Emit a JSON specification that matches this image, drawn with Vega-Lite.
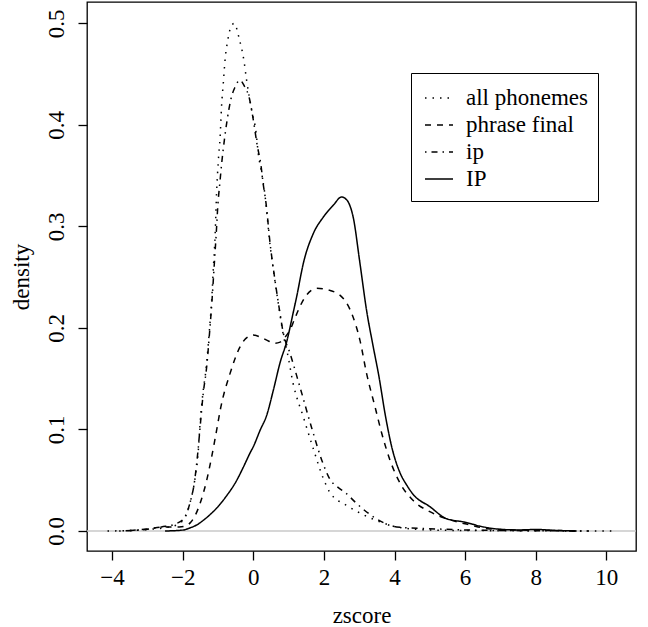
{
  "$schema": "https://vega.github.io/schema/vega-lite/v6.json",
  "width": 549,
  "height": 549,
  "autosize": "none",
  "padding": {"left": 87, "top": 2, "right": 12, "bottom": 76},
  "background": "white",
  "config": {
    "view": {"stroke": "black", "strokeWidth": 1.3},
    "font": "Liberation Serif",
    "axis": {
      "grid": false,
      "domain": false,
      "tickColor": "black",
      "tickWidth": 1.3,
      "tickSize": 9,
      "labelFont": "Liberation Serif",
      "labelFontSize": 23,
      "labelColor": "black",
      "titleFont": "Liberation Serif",
      "titleFontSize": 23,
      "titleFontWeight": "normal",
      "titleColor": "black"
    }
  },
  "datasets": {
    "curves": [
      {"series": "all phonemes", "zscore": -4.13, "density": 0},
      {"series": "all phonemes", "zscore": -3.5, "density": 0.0005},
      {"series": "all phonemes", "zscore": -3.0, "density": 0.0015},
      {"series": "all phonemes", "zscore": -2.55, "density": 0.003},
      {"series": "all phonemes", "zscore": -2.17, "density": 0.006},
      {"series": "all phonemes", "zscore": -1.93, "density": 0.014},
      {"series": "all phonemes", "zscore": -1.79, "density": 0.028},
      {"series": "all phonemes", "zscore": -1.65, "density": 0.052},
      {"series": "all phonemes", "zscore": -1.56, "density": 0.078},
      {"series": "all phonemes", "zscore": -1.51, "density": 0.105},
      {"series": "all phonemes", "zscore": -1.43, "density": 0.135},
      {"series": "all phonemes", "zscore": -1.33, "density": 0.162},
      {"series": "all phonemes", "zscore": -1.25, "density": 0.195},
      {"series": "all phonemes", "zscore": -1.18, "density": 0.227},
      {"series": "all phonemes", "zscore": -1.13, "density": 0.26},
      {"series": "all phonemes", "zscore": -1.08, "density": 0.293},
      {"series": "all phonemes", "zscore": -1.04, "density": 0.333},
      {"series": "all phonemes", "zscore": -0.99, "density": 0.365},
      {"series": "all phonemes", "zscore": -0.94, "density": 0.388},
      {"series": "all phonemes", "zscore": -0.9, "density": 0.418},
      {"series": "all phonemes", "zscore": -0.85, "density": 0.441},
      {"series": "all phonemes", "zscore": -0.8, "density": 0.464},
      {"series": "all phonemes", "zscore": -0.72, "density": 0.484},
      {"series": "all phonemes", "zscore": -0.64, "density": 0.496},
      {"series": "all phonemes", "zscore": -0.54, "density": 0.5},
      {"series": "all phonemes", "zscore": -0.4, "density": 0.485},
      {"series": "all phonemes", "zscore": -0.26, "density": 0.462},
      {"series": "all phonemes", "zscore": -0.19, "density": 0.444},
      {"series": "all phonemes", "zscore": -0.05, "density": 0.415},
      {"series": "all phonemes", "zscore": 0.08, "density": 0.392},
      {"series": "all phonemes", "zscore": 0.14, "density": 0.372},
      {"series": "all phonemes", "zscore": 0.24, "density": 0.352},
      {"series": "all phonemes", "zscore": 0.33, "density": 0.331},
      {"series": "all phonemes", "zscore": 0.47, "density": 0.283},
      {"series": "all phonemes", "zscore": 0.61, "density": 0.247},
      {"series": "all phonemes", "zscore": 0.74, "density": 0.217},
      {"series": "all phonemes", "zscore": 0.85, "density": 0.193},
      {"series": "all phonemes", "zscore": 0.95, "density": 0.178},
      {"series": "all phonemes", "zscore": 1.13, "density": 0.145},
      {"series": "all phonemes", "zscore": 1.42, "density": 0.112},
      {"series": "all phonemes", "zscore": 1.7, "density": 0.081},
      {"series": "all phonemes", "zscore": 1.98, "density": 0.052},
      {"series": "all phonemes", "zscore": 2.17, "density": 0.038},
      {"series": "all phonemes", "zscore": 2.65, "density": 0.025},
      {"series": "all phonemes", "zscore": 3.12, "density": 0.016},
      {"series": "all phonemes", "zscore": 3.59, "density": 0.009},
      {"series": "all phonemes", "zscore": 4.06, "density": 0.004},
      {"series": "all phonemes", "zscore": 5.0, "density": 0.001},
      {"series": "all phonemes", "zscore": 6.0, "density": 0.0005},
      {"series": "all phonemes", "zscore": 8.0, "density": 0.0002},
      {"series": "all phonemes", "zscore": 10.27, "density": 0},

      {"series": "ip", "zscore": -3.8, "density": 0},
      {"series": "ip", "zscore": -3.2, "density": 0.001},
      {"series": "ip", "zscore": -2.6, "density": 0.004},
      {"series": "ip", "zscore": -2.2, "density": 0.007},
      {"series": "ip", "zscore": -1.95, "density": 0.013},
      {"series": "ip", "zscore": -1.8, "density": 0.027},
      {"series": "ip", "zscore": -1.66, "density": 0.05},
      {"series": "ip", "zscore": -1.57, "density": 0.078},
      {"series": "ip", "zscore": -1.5, "density": 0.105},
      {"series": "ip", "zscore": -1.42, "density": 0.135},
      {"series": "ip", "zscore": -1.32, "density": 0.162},
      {"series": "ip", "zscore": -1.24, "density": 0.195},
      {"series": "ip", "zscore": -1.17, "density": 0.227},
      {"series": "ip", "zscore": -1.11, "density": 0.26},
      {"series": "ip", "zscore": -1.05, "density": 0.293},
      {"series": "ip", "zscore": -1.0, "density": 0.323},
      {"series": "ip", "zscore": -0.95, "density": 0.342},
      {"series": "ip", "zscore": -0.89, "density": 0.364},
      {"series": "ip", "zscore": -0.82, "density": 0.385},
      {"series": "ip", "zscore": -0.74, "density": 0.405},
      {"series": "ip", "zscore": -0.63, "density": 0.426},
      {"series": "ip", "zscore": -0.52, "density": 0.437},
      {"series": "ip", "zscore": -0.38, "density": 0.444},
      {"series": "ip", "zscore": -0.25, "density": 0.438},
      {"series": "ip", "zscore": -0.11, "density": 0.426},
      {"series": "ip", "zscore": 0.0, "density": 0.405},
      {"series": "ip", "zscore": 0.11, "density": 0.38},
      {"series": "ip", "zscore": 0.21, "density": 0.362},
      {"series": "ip", "zscore": 0.28, "density": 0.342},
      {"series": "ip", "zscore": 0.36, "density": 0.323},
      {"series": "ip", "zscore": 0.47, "density": 0.285},
      {"series": "ip", "zscore": 0.61, "density": 0.248},
      {"series": "ip", "zscore": 0.74, "density": 0.218},
      {"series": "ip", "zscore": 0.85, "density": 0.195},
      {"series": "ip", "zscore": 1.04, "density": 0.175},
      {"series": "ip", "zscore": 1.32, "density": 0.142},
      {"series": "ip", "zscore": 1.65, "density": 0.102},
      {"series": "ip", "zscore": 1.98, "density": 0.066},
      {"series": "ip", "zscore": 2.17, "density": 0.051},
      {"series": "ip", "zscore": 2.4, "density": 0.043},
      {"series": "ip", "zscore": 2.6, "density": 0.038},
      {"series": "ip", "zscore": 2.93, "density": 0.027},
      {"series": "ip", "zscore": 3.4, "density": 0.014},
      {"series": "ip", "zscore": 4.06, "density": 0.004},
      {"series": "ip", "zscore": 5.2, "density": 0.002},
      {"series": "ip", "zscore": 6.0, "density": 0.001},
      {"series": "ip", "zscore": 7.0, "density": 0.0005},
      {"series": "ip", "zscore": 8.5, "density": 0.0002},
      {"series": "ip", "zscore": 9.5, "density": 0},

      {"series": "phrase final", "zscore": -3.5, "density": 0.0005},
      {"series": "phrase final", "zscore": -3.0, "density": 0.002},
      {"series": "phrase final", "zscore": -2.5, "density": 0.004},
      {"series": "phrase final", "zscore": -2.1, "density": 0.004},
      {"series": "phrase final", "zscore": -1.9, "density": 0.005},
      {"series": "phrase final", "zscore": -1.79, "density": 0.008},
      {"series": "phrase final", "zscore": -1.65, "density": 0.015},
      {"series": "phrase final", "zscore": -1.51, "density": 0.027},
      {"series": "phrase final", "zscore": -1.32, "density": 0.05},
      {"series": "phrase final", "zscore": -1.18, "density": 0.073},
      {"series": "phrase final", "zscore": -1.04, "density": 0.099},
      {"series": "phrase final", "zscore": -0.92, "density": 0.122},
      {"series": "phrase final", "zscore": -0.66, "density": 0.155},
      {"series": "phrase final", "zscore": -0.38, "density": 0.181},
      {"series": "phrase final", "zscore": -0.2, "density": 0.19},
      {"series": "phrase final", "zscore": 0.0, "density": 0.193},
      {"series": "phrase final", "zscore": 0.2, "density": 0.191},
      {"series": "phrase final", "zscore": 0.38, "density": 0.188},
      {"series": "phrase final", "zscore": 0.6, "density": 0.185},
      {"series": "phrase final", "zscore": 0.76, "density": 0.186},
      {"series": "phrase final", "zscore": 0.9, "density": 0.191},
      {"series": "phrase final", "zscore": 1.04, "density": 0.198},
      {"series": "phrase final", "zscore": 1.15, "density": 0.207},
      {"series": "phrase final", "zscore": 1.28, "density": 0.218},
      {"series": "phrase final", "zscore": 1.46, "density": 0.23},
      {"series": "phrase final", "zscore": 1.8, "density": 0.239},
      {"series": "phrase final", "zscore": 2.17, "density": 0.237},
      {"series": "phrase final", "zscore": 2.55, "density": 0.229},
      {"series": "phrase final", "zscore": 2.79, "density": 0.214},
      {"series": "phrase final", "zscore": 3.02, "density": 0.188},
      {"series": "phrase final", "zscore": 3.21, "density": 0.155},
      {"series": "phrase final", "zscore": 3.45, "density": 0.122},
      {"series": "phrase final", "zscore": 3.64, "density": 0.096},
      {"series": "phrase final", "zscore": 3.87, "density": 0.07},
      {"series": "phrase final", "zscore": 4.16, "density": 0.047},
      {"series": "phrase final", "zscore": 4.53, "density": 0.03},
      {"series": "phrase final", "zscore": 5.0, "density": 0.019},
      {"series": "phrase final", "zscore": 5.57, "density": 0.011},
      {"series": "phrase final", "zscore": 6.14, "density": 0.006},
      {"series": "phrase final", "zscore": 6.7, "density": 0.002},
      {"series": "phrase final", "zscore": 7.5, "density": 0.001},
      {"series": "phrase final", "zscore": 8.5, "density": 0.0005},
      {"series": "phrase final", "zscore": 9.2, "density": 0},

      {"series": "IP", "zscore": -2.5, "density": 0},
      {"series": "IP", "zscore": -1.98, "density": 0.001},
      {"series": "IP", "zscore": -1.8, "density": 0.003},
      {"series": "IP", "zscore": -1.6, "density": 0.006},
      {"series": "IP", "zscore": -1.4, "density": 0.011},
      {"series": "IP", "zscore": -1.23, "density": 0.016},
      {"series": "IP", "zscore": -1.0, "density": 0.024},
      {"series": "IP", "zscore": -0.75, "density": 0.035},
      {"series": "IP", "zscore": -0.5, "density": 0.048},
      {"series": "IP", "zscore": -0.28, "density": 0.063},
      {"series": "IP", "zscore": -0.09, "density": 0.077},
      {"series": "IP", "zscore": 0.0, "density": 0.083},
      {"series": "IP", "zscore": 0.19, "density": 0.099},
      {"series": "IP", "zscore": 0.38, "density": 0.114},
      {"series": "IP", "zscore": 0.57, "density": 0.139},
      {"series": "IP", "zscore": 0.76, "density": 0.166},
      {"series": "IP", "zscore": 0.95, "density": 0.187},
      {"series": "IP", "zscore": 1.13, "density": 0.215},
      {"series": "IP", "zscore": 1.23, "density": 0.231},
      {"series": "IP", "zscore": 1.42, "density": 0.264},
      {"series": "IP", "zscore": 1.7, "density": 0.293},
      {"series": "IP", "zscore": 1.98, "density": 0.309},
      {"series": "IP", "zscore": 2.27, "density": 0.321},
      {"series": "IP", "zscore": 2.5, "density": 0.329},
      {"series": "IP", "zscore": 2.62, "density": 0.327},
      {"series": "IP", "zscore": 2.69, "density": 0.324},
      {"series": "IP", "zscore": 2.83, "density": 0.309},
      {"series": "IP", "zscore": 3.02, "density": 0.264},
      {"series": "IP", "zscore": 3.21, "density": 0.217},
      {"series": "IP", "zscore": 3.4, "density": 0.181},
      {"series": "IP", "zscore": 3.56, "density": 0.152},
      {"series": "IP", "zscore": 3.73, "density": 0.116},
      {"series": "IP", "zscore": 3.92, "density": 0.083},
      {"series": "IP", "zscore": 4.16, "density": 0.057},
      {"series": "IP", "zscore": 4.35, "density": 0.045},
      {"series": "IP", "zscore": 4.53, "density": 0.036},
      {"series": "IP", "zscore": 5.0, "density": 0.024},
      {"series": "IP", "zscore": 5.48, "density": 0.012},
      {"series": "IP", "zscore": 5.95, "density": 0.009},
      {"series": "IP", "zscore": 6.52, "density": 0.004},
      {"series": "IP", "zscore": 6.9, "density": 0.002},
      {"series": "IP", "zscore": 7.5, "density": 0.001},
      {"series": "IP", "zscore": 8.0, "density": 0.0015},
      {"series": "IP", "zscore": 8.5, "density": 0.0007},
      {"series": "IP", "zscore": 9.16, "density": 0}
    ]
  },
  "layer": [
    {
      "data": {"values": [{"level": 0}]},
      "mark": {"type": "rule", "color": "#c8c8c8", "strokeWidth": 1.5},
      "encoding": {
        "y": {"field": "level", "type": "quantitative"}
      }
    },
    {
      "data": {"name": "curves"},
      "mark": {"type": "line", "color": "black", "strokeWidth": 1.5, "interpolate": "monotone", "clip": true},
      "encoding": {
        "x": {
          "field": "zscore",
          "type": "quantitative",
          "scale": {"domain": [-4.711, 10.841], "nice": false, "zero": false},
          "axis": {
            "values": [-4, -2, 0, 2, 4, 6, 8, 10],
            "title": "zscore",
            "labelPadding": 6,
            "titleBaseline": "alphabetic",
            "titleY": 71
          }
        },
        "y": {
          "field": "density",
          "type": "quantitative",
          "scale": {"domain": [-0.0197, 0.521], "nice": false, "zero": false},
          "axis": {
            "values": [0, 0.1, 0.2, 0.3, 0.4, 0.5],
            "format": ".1f",
            "title": "density",
            "labelAngle": 270,
            "labelAlign": "center",
            "labelBaseline": "alphabetic",
            "labelPadding": 15,
            "titleAngle": 270,
            "titleBaseline": "alphabetic",
            "titleX": -59
          }
        },
        "strokeDash": {
          "field": "series",
          "type": "nominal",
          "scale": {
            "domain": ["all phonemes", "phrase final", "ip", "IP"],
            "range": [[1.5, 6], [6, 6], [1.5, 5, 6, 5], [1, 0]]
          },
          "legend": {
            "title": null,
            "orient": "none",
            "legendX": 324,
            "legendY": 71,
            "direction": "vertical",
            "symbolType": "stroke",
            "symbolSize": 784,
            "symbolOffset": 3,
            "symbolStrokeWidth": 1.5,
            "symbolStrokeColor": "black",
            "labelFont": "Liberation Serif",
            "labelFontSize": 23,
            "labelColor": "black",
            "labelOffset": 12,
            "labelLimit": 300,
            "rowPadding": 0,
            "padding": 10,
            "strokeColor": "black"
          }
        }
      }
    }
  ]
}
